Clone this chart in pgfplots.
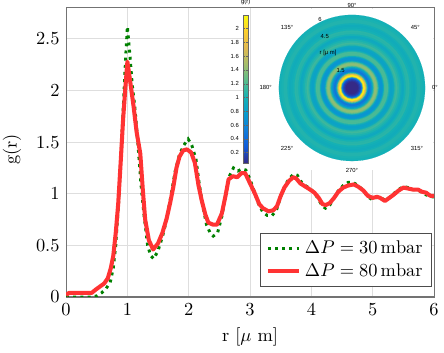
\documentclass[border=0pt]{standalone}
\usepackage{pgfplots}
\pgfplotsset{compat=1.18}
\usepackage{pgfplotstable}
\usepackage{fontspec}
\newfontfamily\insetfont{Liberation Sans}
\newcommand\tinyinset{\insetfont\fontsize{3.2}{3.8}\selectfont}
\pgfplotsset{colormap={parula}{rgb255=(53,42,135) rgb255=(15,92,221) rgb255=(18,125,216) rgb255=(7,156,207) rgb255=(21,177,180) rgb255=(89,189,140) rgb255=(165,190,107) rgb255=(225,185,82) rgb255=(252,206,46) rgb255=(249,251,14)}}

\pgfplotstableread{
r g
0.00 0.00
0.10 0.00
0.20 0.00
0.30 0.00
0.40 0.00
0.50 0.01
0.58 0.04
0.65 0.08
0.72 0.14
0.77 0.28
0.81 0.50
0.85 0.85
0.89 1.30
0.93 1.80
0.97 2.30
1.00 2.62
1.04 2.35
1.08 2.05
1.12 1.85
1.17 1.50
1.22 1.10
1.27 0.80
1.33 0.50
1.38 0.40
1.43 0.37
1.50 0.45
1.57 0.58
1.64 0.75
1.71 0.98
1.78 1.22
1.85 1.38
1.92 1.47
1.99 1.53
2.05 1.47
2.12 1.33
2.17 1.10
2.23 0.88
2.29 0.70
2.35 0.62
2.40 0.59
2.47 0.62
2.54 0.78
2.61 1.02
2.67 1.18
2.73 1.25
2.80 1.22
2.87 1.24
2.93 1.23
3.00 1.14
3.07 1.02
3.14 0.90
3.21 0.82
3.28 0.79
3.36 0.79
3.43 0.84
3.50 0.97
3.57 1.08
3.64 1.15
3.71 1.19
3.77 1.18
3.84 1.11
3.90 1.08
3.98 1.05
4.05 1.01
4.12 0.94
4.18 0.88
4.23 0.86
4.30 0.89
4.37 0.96
4.44 1.03
4.52 1.08
4.60 1.11
4.68 1.11
4.76 1.08
4.85 1.03
4.92 0.97
5.00 0.94
5.07 0.97
5.13 0.96
5.20 0.94
5.27 0.96
5.34 1.00
5.42 1.04
5.50 1.07
5.58 1.06
5.66 1.04
5.74 1.04
5.80 1.01
5.87 0.99
5.94 0.97
6.00 0.97
}\lowP

\pgfplotstableread{
r g
0.00 0.02
0.05 0.04
0.15 0.04
0.25 0.04
0.35 0.04
0.42 0.04
0.48 0.07
0.55 0.10
0.62 0.13
0.68 0.18
0.73 0.28
0.77 0.40
0.81 0.62
0.85 0.90
0.89 1.30
0.93 1.72
0.97 2.05
1.00 2.28
1.05 2.07
1.10 1.85
1.15 1.60
1.21 1.39
1.25 1.05
1.29 0.75
1.35 0.55
1.42 0.46
1.50 0.52
1.57 0.62
1.64 0.76
1.70 0.92
1.75 1.07
1.80 1.25
1.85 1.36
1.91 1.42
1.97 1.43
2.04 1.40
2.10 1.30
2.16 1.08
2.21 0.94
2.27 0.80
2.32 0.72
2.40 0.70
2.46 0.70
2.54 0.81
2.60 0.98
2.65 1.14
2.72 1.17
2.79 1.16
2.86 1.20
2.92 1.20
3.00 1.10
3.08 1.00
3.15 0.90
3.21 0.86
3.30 0.83
3.38 0.84
3.44 0.88
3.50 0.98
3.56 1.06
3.63 1.12
3.70 1.16
3.75 1.15
3.82 1.10
3.90 1.07
3.98 1.04
4.05 1.01
4.12 0.96
4.18 0.90
4.23 0.89
4.30 0.91
4.37 0.96
4.44 1.02
4.52 1.06
4.60 1.08
4.69 1.09
4.76 1.07
4.85 1.03
4.92 0.98
5.00 0.96
5.07 0.97
5.12 0.96
5.20 0.93
5.27 0.96
5.34 0.99
5.42 1.03
5.50 1.06
5.58 1.05
5.66 1.04
5.74 1.04
5.80 1.02
5.87 1.01
5.94 0.98
6.00 0.98
}\highP

\pgfplotstableread{
x y rad g
0 0 6.00 0.99
0 0 5.80 1.02
0 0 5.62 1.05
0 0 5.46 1.05
0 0 5.30 0.98
0 0 5.16 0.94
0 0 5.04 0.96
0 0 4.88 1.00
0 0 4.72 1.08
0 0 4.56 1.07
0 0 4.40 1.00
0 0 4.26 0.90
0 0 4.14 0.93
0 0 4.00 1.02
0 0 3.86 1.08
0 0 3.72 1.15
0 0 3.58 1.10
0 0 3.48 0.95
0 0 3.40 0.86
0 0 3.26 0.84
0 0 3.12 0.92
0 0 3.04 1.04
0 0 2.96 1.18
0 0 2.82 1.19
0 0 2.68 1.15
0 0 2.62 1.00
0 0 2.56 0.80
0 0 2.48 0.71
0 0 2.36 0.71
0 0 2.28 0.78
0 0 2.22 0.92
0 0 2.16 1.12
0 0 2.10 1.32
0 0 2.02 1.41
0 0 1.88 1.40
0 0 1.82 1.28
0 0 1.77 1.12
0 0 1.72 0.95
0 0 1.66 0.78
0 0 1.58 0.60
0 0 1.46 0.47
0 0 1.38 0.52
0 0 1.32 0.70
0 0 1.26 1.05
0 0 1.20 1.45
0 0 1.14 1.70
0 0 1.08 2.00
0 0 1.02 2.25
0 0 0.96 2.10
0 0 0.92 1.70
0 0 0.88 1.25
0 0 0.84 0.80
0 0 0.80 0.48
0 0 0.76 0.30
0 0 0.70 0.18
0 0 0.60 0.10
0 0 0.50 0.05
}\rings

\begin{document}
\begin{tikzpicture}
\begin{axis}[
  name=main,
  scale only axis, width=200pt, height=157.1pt,
  xmin=0, xmax=6, ymin=0, ymax=2.8,
  xtick={0,1,2,3,4,5,6}, ytick={0,0.5,1,1.5,2,2.5},
  grid=major, grid style={black!13, line width=0.6pt},
  axis line style={black!55, line width=0.6pt},
  major tick length=0pt,
  xlabel={r [$\mu$ m]}, ylabel={g(r)},
  xlabel style={at={(axis description cs:0.5,-0.138)}, anchor=center},
  ylabel style={at={(axis description cs:-0.147,0.51)}, anchor=center},
  legend style={at={(0.995,0.035)}, anchor=south east, draw=black!70, fill=white, font=\normalsize},
  legend cell align=left,
]
\fill[white] (rel axis cs:0.503,0.44) rectangle (rel axis cs:0.997,0.997);
\addplot[green!50!black, line width=1.6pt, dash pattern=on 1.6pt off 2.3pt] table[x=r, y=g] {\lowP};
\addlegendentry{$\Delta P = 30\,\mathrm{mbar}$}
\addplot[red!80, line width=2.2pt, line join=round] table[x=r, y=g] {\highP};
\addlegendentry{$\Delta P = 80\,\mathrm{mbar}$}
\end{axis}

\begin{axis}[
  at={(155.4pt,113.6pt)}, anchor=center,
  scale only axis, width=79.4pt, height=79.4pt,
  xmin=-6, xmax=6, ymin=-6, ymax=6,
  hide axis, clip=false,
  colormap name=parula, point meta min=0.05, point meta max=2.2,
  colorbar left,
  colorbar style={
    at={(parent axis.center)}, anchor=center, xshift=-49.2pt, yshift=-0.5pt,
    scale only axis, width=2.4pt, height=80.4pt,
    ytick={0.2,0.4,0.6,0.8,1,1.2,1.4,1.6,1.8,2},
    yticklabel pos=left,
    yticklabel style={font=\tinyinset, /pgf/number format/assume math mode=true, xshift=1pt},
    major tick length=1pt,
    tick style={line width=0.2pt, black!60},
    axis line style={line width=0.2pt, black!60},
    title={g(r)}, title style={font=\tinyinset, yshift=-4pt},
  },
]
\addplot[scatter, only marks, mark=*, scatter src=explicit,
  scatter/use mapped color={draw=mapped color, fill=mapped color},
  mark options={line width=0.05pt},
  visualization depends on={6.617*\thisrow{rad} \as \ringrad},
  scatter/@pre marker code/.append style={/tikz/mark size=\ringrad}]
  table[x=x, y=y, meta=g] {\rings};
\end{axis}

\begin{axis}[
  at={(155.4pt,113.6pt)}, anchor=center,
  scale only axis, width=79.4pt, height=79.4pt,
  xmin=-6, xmax=6, ymin=-6, ymax=6,
  hide axis, clip=false,
]
\node[font=\tinyinset, anchor=south] at (axis cs:0,6.05) {90°};
\node[font=\tinyinset, anchor=north] at (axis cs:0,-6.1) {270°};
\node[font=\tinyinset, anchor=west] at (axis cs:6.05,0) {0°};
\node[font=\tinyinset, anchor=east] at (axis cs:-6.05,0) {180°};
\node[font=\tinyinset, anchor=south west] at (axis cs:4.3,4.3) {45°};
\node[font=\tinyinset, anchor=south east] at (axis cs:-4.3,4.3) {135°};
\node[font=\tinyinset, anchor=north east] at (axis cs:-4.3,-4.3) {225°};
\node[font=\tinyinset, anchor=north west] at (axis cs:4.3,-4.3) {315°};
\node[font=\tinyinset] at (axis cs:-2.62,5.62) {6};
\node[font=\tinyinset] at (axis cs:-2.24,4.21) {4.5};
\node[font=\tinyinset] at (axis cs:-1.96,2.90) {r [μ m]};
\node[font=\tinyinset] at (axis cs:-0.93,1.43) {1.5};
\end{axis}
\pgfresetboundingbox
\path[use as bounding box] (-35.9pt,-29.9pt) rectangle (205.4pt,161.4pt);
\end{tikzpicture}
\end{document}
